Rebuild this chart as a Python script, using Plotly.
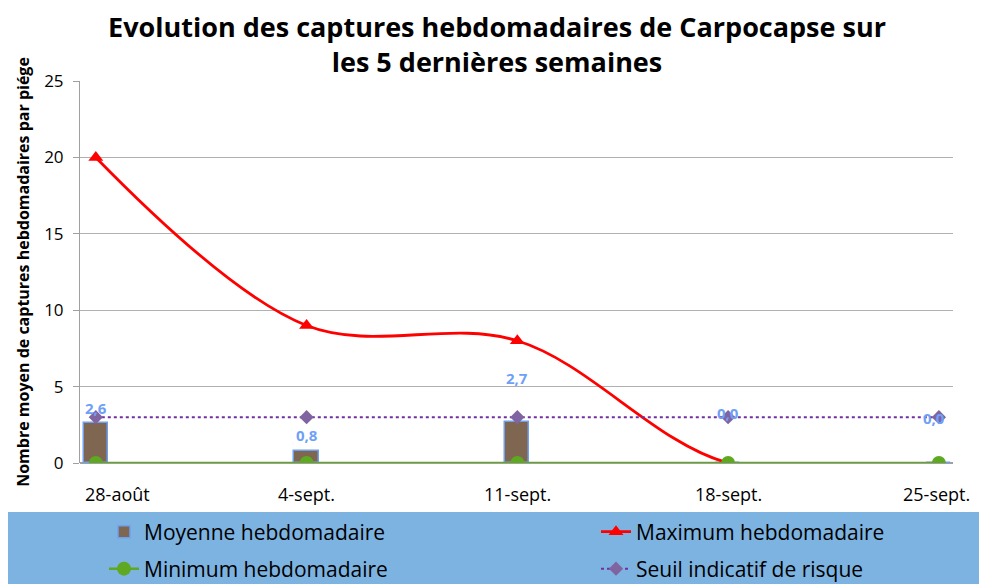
import plotly.graph_objects as go

categories = ["28-août", "4-sept.", "11-sept.", "18-sept.", "25-sept."]
moyenne = [2.6, 0.8, 2.7, 0.0, 0.0]
maximum = [20, 9, 8, 0, 0]
minimum = [0, 0, 0, 0, 0]
seuil = [3, 3, 3, 3, 3]
y_ticks = [0, 5, 10, 15, 20, 25]

# label offsets (pixels) — style only
label_yshift = [15, 16, 44, 50, 45]
label_xshift = [0, 0, 0, 0, -5]
cat_label_xshift = [22, 0, 0, 0, -2]

FONT = "Open Sans"

# The page body has an 8px margin; figure coords = screen coords - 8
W, H = 979, 576
OFF = 8

fig = go.Figure()
fig.add_trace(go.Bar(
    x=categories, y=moyenne, name="Moyenne hebdomadaire",
    width=0.115, marker=dict(color="#7F6650", line=dict(color="#6FA0F0", width=1.5)),
    legend="legend",
))
fig.add_trace(go.Scatter(
    x=categories, y=maximum, name="Maximum hebdomadaire", mode="lines+markers",
    line=dict(color="#FF0000", width=2.8, shape="spline", smoothing=1.0),
    marker=dict(symbol="triangle-up", size=13, color="#FF0000"),
    legend="legend2",
))
fig.add_trace(go.Scatter(
    x=categories, y=minimum, name="Minimum hebdomadaire", mode="lines+markers",
    line=dict(color="#5FA821", width=2.5),
    marker=dict(symbol="circle", size=14, color="#5FA821"),
    legend="legend3",
))
fig.add_trace(go.Scatter(
    x=categories, y=seuil, name="Seuil indicatif de risque", mode="lines+markers",
    line=dict(color="#7030A0", width=2, dash="dot"),
    marker=dict(symbol="diamond", size=11, color="#8064A2"),
    legend="legend4",
))

for i, (c, v) in enumerate(zip(categories, moyenne)):
    fig.add_annotation(
        x=c, y=v, text=f"{v:.1f}".replace(".", ","), showarrow=False,
        yshift=label_yshift[i], xshift=label_xshift[i],
        font=dict(family=FONT, size=15, color="#6FA0F8", weight="bold"),
    )

# category labels (as annotations so the first one can be nudged like the original)
for i, c in enumerate(categories):
    fig.add_annotation(
        x=c, y=0, text=c, showarrow=False, yanchor="middle",
        yshift=-31, xshift=cat_label_xshift[i],
        font=dict(family=FONT, size=18, color="black"),
    )

# screen-pixel layout
PL, PR, PT, PB = 80, 953, 81, 463
L = PL - OFF
R = W - (PR - OFF)
T = PT - OFF
B = H - (PB - OFF)
pw = W - L - R
ph = H - T - B


def px_x(sx):
    return (sx - PL) / pw


def px_y(sy):
    return (PB - sy) / ph


# legend band
fig.add_shape(type="rect", xref="paper", yref="paper",
              x0=px_x(3), x1=px_x(995),
              y0=px_y(590), y1=px_y(512),
              fillcolor="#7DB3E1", line=dict(width=0), layer="below")


def leg(sx, sy):
    return dict(
        orientation="v", x=px_x(sx), xanchor="left",
        y=px_y(sy), yanchor="middle",
        bgcolor="rgba(0,0,0,0)", borderwidth=0,
        font=dict(family=FONT, size=21, color="black"),
    )


fig.update_layout(
    width=W, height=H,
    margin=dict(l=L, r=R, t=T, b=B, autoexpand=False),
    paper_bgcolor="white", plot_bgcolor="white",
    font=dict(family=FONT, color="black"),
    title=dict(
        text="Evolution des captures hebdomadaires de Carpocapse sur<br>les 5 dernières semaines",
        x=(497 - OFF) / W, xanchor="center", y=1 - 29 / H, yanchor="middle",
        font=dict(family=FONT, size=27, weight="bold", color="black"),
    ),
    bargap=0,
    showlegend=True,
    legend=leg(104, 532),
    legend2=leg(596, 532),
    legend3=leg(104, 569),
    legend4=leg(596, 569),
)

fig.update_xaxes(
    type="category", categoryorder="array", categoryarray=categories,
    range=[-0.075, 4.067], showgrid=False, showline=False, zeroline=False,
    ticks="", showticklabels=False,
)
fig.update_yaxes(
    range=[0, 25], tickvals=y_ticks, showgrid=True, gridcolor="#B0B0B0", gridwidth=1,
    showline=True, linecolor="#A0A0A0", linewidth=1, zeroline=True,
    zerolinecolor="#A0A0A0", ticks="outside", ticklen=6, tickcolor="#A0A0A0",
    ticklabelstandoff=6,
    tickfont=dict(family=FONT, size=17, color="black"),
    title=dict(text="Nombre moyen de captures hebdomadaires par piége", standoff=10,
               font=dict(family=FONT, size=16, weight="bold", color="black")),
)

fig.write_html("out.html")
